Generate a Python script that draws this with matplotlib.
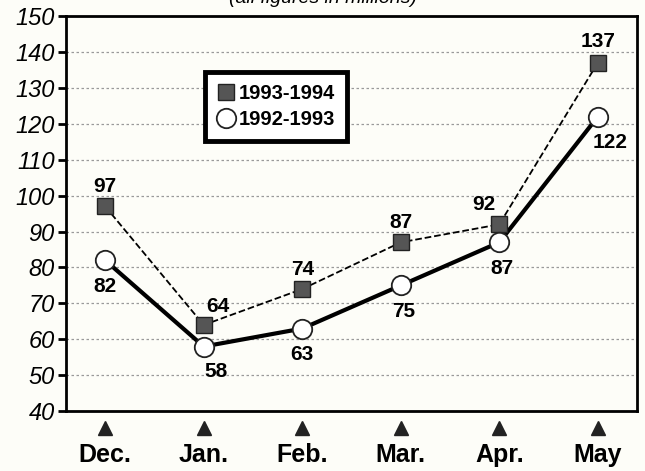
import numpy as np
import matplotlib.pyplot as plt

months = ['Dec.', 'Jan.', 'Feb.', 'Mar.', 'Apr.', 'May']
s9394 = [97, 64, 74, 87, 92, 137]
s9293 = [82, 58, 63, 75, 87, 122]
yticks = list(range(40, 151, 10))

# label offsets (points) for value labels
off9394 = [(0, 14), (10, 13), (0, 14), (0, 14), (-11, 14), (0, 15)]
off9293 = [(0, -19), (9, -18), (0, -19), (2, -19), (2, -19), (9, -19)]

fig = plt.figure(figsize=(6.45, 4.71), dpi=100)
fig.patch.set_facecolor('#fdfdf8')
ax = fig.add_axes([0.102, 0.127, 0.886, 0.839])
ax.set_facecolor('#fdfdf8')

x = np.arange(len(months))
ax.plot(x, s9394, '--', color='black', lw=1.3, zorder=3)
ax.plot(x, s9394, 's', ms=11, mfc='#555555', mec='#222222', mew=1, zorder=4,
        label='1993-1994')
ax.plot(x, s9293, '-', color='black', lw=3, zorder=3)
ax.plot(x, s9293, 'o', ms=14, mfc='white', mec='#222222', mew=1.3, zorder=5,
        label='1992-1993')

for i in range(len(months)):
    ax.annotate(str(s9394[i]), (x[i], s9394[i]), xytext=off9394[i],
                textcoords='offset points', ha='center', va='center',
                fontsize=15, fontweight='bold', family='Liberation Sans')
    ax.annotate(str(s9293[i]), (x[i], s9293[i]), xytext=off9293[i],
                textcoords='offset points', ha='center', va='center',
                fontsize=15, fontweight='bold', family='Liberation Sans')

# triangles under the axis
ax.plot(x, [35.3] * len(x), '^', ms=10, color='#222222', clip_on=False)

ax.set_xlim(-0.4, 5.4)
ax.set_ylim(40, 150)
ax.set_yticks(yticks)
ax.set_yticklabels([str(v) for v in yticks], fontsize=17, style='italic',
                   family='Liberation Sans')
ax.set_xticks(x)
ax.set_xticklabels(months, fontsize=18, fontweight='bold', family='Liberation Sans')
ax.tick_params(axis='x', length=0, pad=23)
ax.tick_params(axis='y', length=6, width=2, pad=2)
ax.grid(axis='y', linestyle=(0, (2, 2)), color='#999999', lw=0.9)
for sp in ax.spines.values():
    sp.set_linewidth(2)

leg = ax.legend(loc='upper left', bbox_to_anchor=(0.243, 0.858),
                prop={'family': 'Liberation Sans', 'weight': 'bold', 'size': 14.5},
                frameon=True, fancybox=False, handletextpad=0.2,
                handlelength=0.9, borderpad=0.6, labelspacing=0.35,
                borderaxespad=0)
leg.get_frame().set_edgecolor('black')
leg.get_frame().set_linewidth(3.5)
leg.get_frame().set_facecolor('white')
leg.get_frame().set_alpha(1)

fig.text(0.5, 1.003, '(all figures in millions)', ha='center', va='center',
         fontsize=14, style='italic', family='Liberation Sans')

fig.savefig('out.png', dpi=100, facecolor=fig.get_facecolor())
